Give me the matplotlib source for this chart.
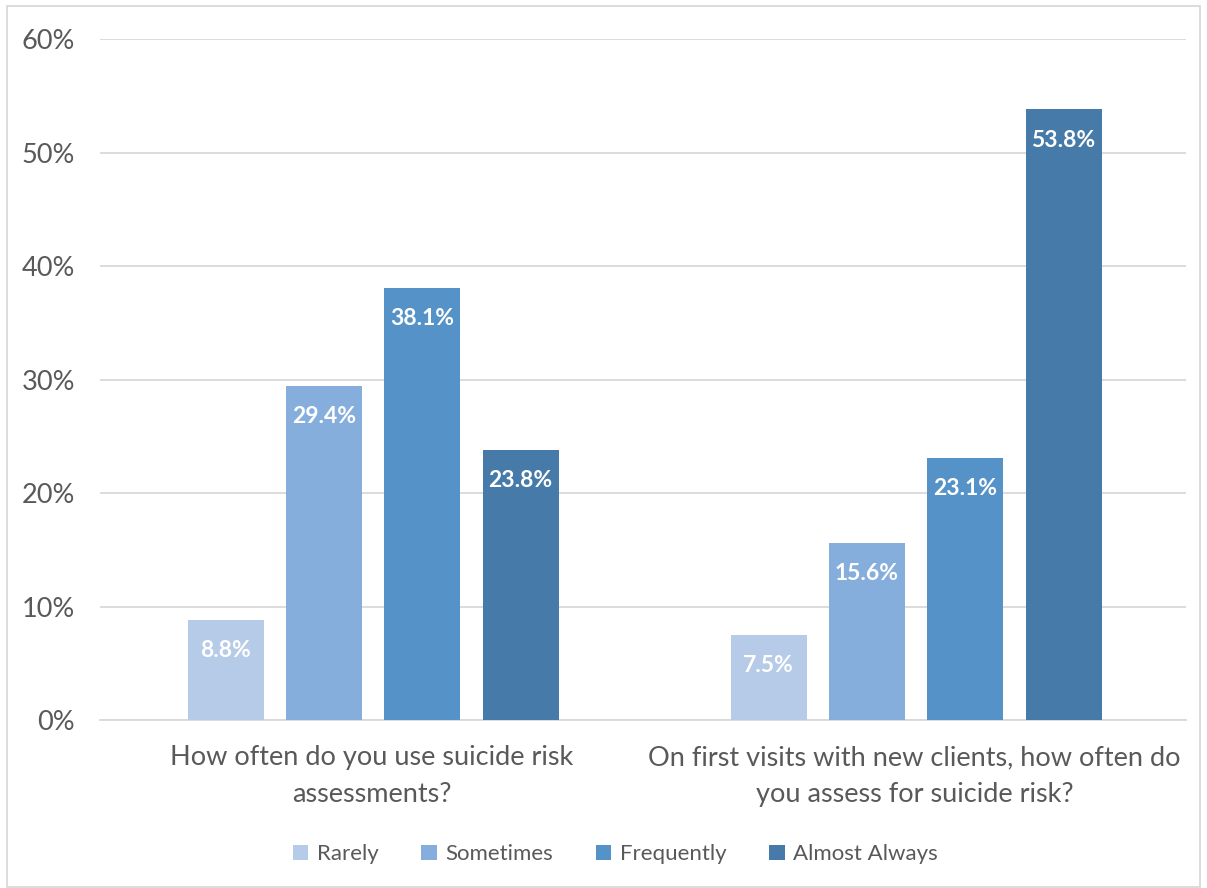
import matplotlib
matplotlib.use('Agg')
from matplotlib import pyplot as plt
from matplotlib.patches import Rectangle
import numpy as np

plt.rcParams['font.family'] = ['Lato', 'DejaVu Sans']

questions = ['How often do you use suicide risk\nassessments?',
             'On first visits with new clients, how often do\nyou assess for suicide risk?']
responses = ['Rarely', 'Sometimes', 'Frequently', 'Almost Always']
rarely = [8.8, 7.5]
sometimes = [29.4, 15.6]
frequently = [38.1, 23.1]
almost_always = [23.8, 53.8]

colors = ['#B6CBE8', '#85AEDC', '#5592C8', '#467AA8']
series = [rarely, sometimes, frequently, almost_always]

fig = plt.figure(figsize=(12.07, 8.88), dpi=100)
ax = fig.add_axes([0.0829, 0.189, 0.8997, 0.767])

x = np.arange(len(questions))
width = 0.14
step = 0.181
for i, (vals, name, c) in enumerate(zip(series, responses, colors)):
    pos = x + (i - 1.5) * step + 0.003
    bars = ax.bar(pos, vals, width, color=c, label=name, zorder=3)
    for b, v in zip(bars, vals):
        ax.annotate(f'{v:.1f}%', (b.get_x() + b.get_width() / 2, v),
                    xytext=(0, -22), textcoords='offset points',
                    ha='center', va='center', color='white',
                    fontsize=16.5, fontweight='bold', zorder=4)

ax.set_xlim(-0.5, 1.5)
ax.set_ylim(0, 60)
ax.set_yticks(range(0, 61, 10))
ax.set_yticklabels([f'{t}%' for t in range(0, 61, 10)])
ax.yaxis.grid(True, color='#D9D9D9', linewidth=1.3, zorder=0)
ax.set_xticks(x)
ax.set_xticklabels(questions, linespacing=1.6)
ax.tick_params(axis='y', length=0, pad=18, labelsize=19.5, labelcolor='#595959')
ax.tick_params(axis='x', length=0, pad=18, labelsize=19.5, labelcolor='#595959')
for s in ['top', 'right', 'left']:
    ax.spines[s].set_visible(False)
ax.spines['bottom'].set_color('#D9D9D9')
ax.spines['bottom'].set_linewidth(1.3)

fig.legend(loc='center', bbox_to_anchor=(0.51, 0.038), ncol=4, frameon=False,
           fontsize=16, labelcolor='#595959', handlelength=0.7, handleheight=0.7,
           handletextpad=0.4, columnspacing=1.9)

fig.patches.append(Rectangle((7 / 1207, 0.001), 1193 / 1207, 881 / 888,
                             transform=fig.transFigure, fill=False,
                             edgecolor='#D9D9D9', linewidth=1.3))

fig.savefig('out.png', dpi=100)
